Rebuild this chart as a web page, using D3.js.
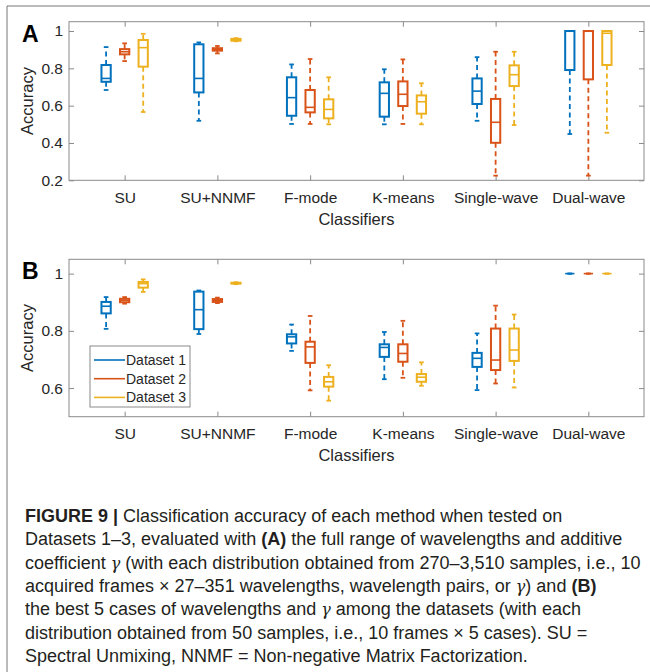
<!DOCTYPE html>
<html>
<head>
<meta charset="utf-8">
<script src="https://cdn.jsdelivr.net/npm/d3@7"></script>
<style>
  body { margin: 0; background: #fff; }
  svg { display: block; font-family: "Liberation Sans", Arial, sans-serif; }
</style>
</head>
<body>
<svg id="svgroot" width="650" height="672"></svg>
<script>
// Data
var classifiers = ["SU", "SU+NNMF", "F-mode", "K-means", "Single-wave", "Dual-wave"];
var datasets = ["Dataset 1", "Dataset 2", "Dataset 3"];
var colors = ["#0072BD", "#D95319", "#EDB120"];

// each row: [lower whisker, q1, median, q3, upper whisker]
// (A) full range of wavelengths
var fullD1 = [[0.684, 0.728, 0.746, 0.818, 0.914], [0.519, 0.671, 0.746, 0.929, 0.939], [0.502, 0.546, 0.643, 0.752, 0.821],
              [0.500, 0.541, 0.666, 0.725, 0.795], [0.519, 0.609, 0.678, 0.746, 0.860], [0.448, 0.791, 1.0, 1.0, 1.0]];
var fullD2 = [[0.839, 0.875, 0.889, 0.903, 0.934], [0.880, 0.895, 0.900, 0.908, 0.920], [0.502, 0.564, 0.591, 0.684, 0.850],
              [0.502, 0.598, 0.661, 0.730, 0.848], [0.225, 0.401, 0.511, 0.636, 0.889], [0.225, 0.741, 1.0, 1.0, 1.0]];
var fullD3 = [[0.566, 0.809, 0.911, 0.952, 0.985], [0.945, 0.948, 0.953, 0.958, 0.962], [0.500, 0.532, 0.580, 0.634, 0.752],
              [0.500, 0.557, 0.621, 0.655, 0.720], [0.496, 0.705, 0.766, 0.816, 0.889], [0.455, 0.818, 0.988, 1.0, 1.0]];
// (B) best 5 cases
var bestD1 = [[0.807, 0.861, 0.886, 0.901, 0.918], [0.789, 0.806, 0.874, 0.937, 0.941], [0.730, 0.756, 0.779, 0.788, 0.822],
              [0.631, 0.709, 0.742, 0.753, 0.796], [0.593, 0.674, 0.704, 0.723, 0.791], [1, 1, 1, 1, 1]];
var bestD2 = [[0.895, 0.900, 0.907, 0.912, 0.918], [0.897, 0.901, 0.907, 0.911, 0.916], [0.592, 0.688, 0.744, 0.762, 0.852],
              [0.636, 0.692, 0.721, 0.753, 0.835], [0.616, 0.663, 0.698, 0.808, 0.888], [1, 1, 1, 1, 1]];
var bestD3 = [[0.936, 0.951, 0.965, 0.971, 0.980], [0.963, 0.965, 0.967, 0.968, 0.970], [0.556, 0.605, 0.622, 0.639, 0.680],
              [0.608, 0.622, 0.638, 0.649, 0.690], [0.602, 0.695, 0.733, 0.808, 0.857], [1, 1, 1, 1, 1]];

var ticksA = [0.2, 0.4, 0.6, 0.8, 1];
var ticksB = [0.6, 0.8, 1];

var captionLines = [
  [["b", "FIGURE 9 | "], ["", "Classification accuracy of each method when tested on"]],
  [["", "Datasets 1–3, evaluated with "], ["b", "(A)"], ["", " the full range of wavelengths and additive"]],
  [["", "coefficient "], ["i", "γ"], ["", " (with each distribution obtained from 270–3,510 samples, i.e., 10"]],
  [["", "acquired frames × 27–351 wavelengths, wavelength pairs, or "], ["i", "γ"], ["", ") and "], ["b", "(B)"]],
  [["", "the best 5 cases of wavelengths and "], ["i", "γ"], ["", " among the datasets (with each"]],
  [["", "distribution obtained from 50 samples, i.e., 10 frames × 5 cases). SU ="]],
  [["", "Spectral Unmixing, NNMF = Non-negative Matrix Factorization."]]
];

var svg = d3.select("svg");
var left = 69, right = 644;
var offsets = [-0.2, 0, 0.2];
var boxW = 0.1;
var axisGray = "#8a8a8a", textCol = "#262626";

// outer frame
svg.append("path").attr("d", "M7,672V6H650").attr("fill", "none").attr("stroke", "#777").attr("stroke-width", 1);

var x = d3.scaleLinear().domain([0.4, 6.6]).range([left, right]);

function panel(label, top, bottom, domain, ticks, series, showLegend){
  var y = d3.scaleLinear().domain(domain).range([bottom, top]);
  var g = svg.append("g");

  // ticks left / right / bottom / top (inward)
  var yl = g.append("g").attr("transform", "translate(" + left + ",0)")
    .call(d3.axisLeft(y).tickValues(ticks).tickSize(-5).tickPadding(6).tickFormat(d3.format("")));
  var yr = g.append("g").attr("transform", "translate(" + right + ",0)")
    .call(d3.axisRight(y).tickValues(ticks).tickSize(-5).tickFormat(""));
  var xb = g.append("g").attr("transform", "translate(0," + bottom + ")")
    .call(d3.axisBottom(x).tickValues(d3.range(1, 7)).tickSize(-5).tickPadding(11.5).tickFormat(function(d){ return classifiers[d - 1]; }));
  var xt = g.append("g").attr("transform", "translate(0," + top + ")")
    .call(d3.axisTop(x).tickValues(d3.range(1, 7)).tickSize(-5).tickFormat(""));
  [yl, yr, xb, xt].forEach(function(a){
    a.select(".domain").remove();
    a.selectAll("line").attr("stroke", axisGray);
    a.selectAll("text").attr("fill", textCol).style("font-size", "15.5px").style("font-family", "Liberation Sans, Arial, sans-serif");
  });

  g.append("rect").attr("x", left).attr("y", top).attr("width", right - left).attr("height", bottom - top)
    .attr("fill", "none").attr("stroke", axisGray).attr("stroke-width", 1);

  // boxes
  series.forEach(function(s, si){
    var col = colors[si];
    var bg = g.append("g").attr("stroke", col).attr("fill", "none");
    s.forEach(function(d, ci){
      var c = ci + 1 + offsets[si];
      var x0 = x(c - boxW / 2), x1 = x(c + boxW / 2), xm = x(c);
      var cap0 = x(c - boxW / 4), cap1 = x(c + boxW / 4);
      // whiskers
      bg.append("line").attr("x1", xm).attr("x2", xm).attr("y1", y(d[3])).attr("y2", y(d[4]))
        .attr("stroke-width", 1.8).attr("stroke-dasharray", "5,3.5");
      bg.append("line").attr("x1", xm).attr("x2", xm).attr("y1", y(d[1])).attr("y2", y(d[0]))
        .attr("stroke-width", 1.8).attr("stroke-dasharray", "5,3.5");
      bg.append("line").attr("x1", cap0).attr("x2", cap1).attr("y1", y(d[4])).attr("y2", y(d[4])).attr("stroke-width", 1.8);
      bg.append("line").attr("x1", cap0).attr("x2", cap1).attr("y1", y(d[0])).attr("y2", y(d[0])).attr("stroke-width", 1.8);
      // box + median
      bg.append("rect").attr("x", x0).attr("y", y(d[3])).attr("width", x1 - x0).attr("height", Math.max(0, y(d[1]) - y(d[3])))
        .attr("stroke-width", 2);
      bg.append("line").attr("x1", x0).attr("x2", x1).attr("y1", y(d[2])).attr("y2", y(d[2])).attr("stroke-width", 1.6);
    });
  });

  // labels
  g.append("text").attr("x", (left + right) / 2).attr("y", bottom + 44.5).attr("text-anchor", "middle")
    .attr("fill", textCol).style("font-size", "16.5px").text("Classifiers");
  g.append("text").attr("transform", "translate(32.5," + (top + bottom) / 2 + ") rotate(-90)").attr("text-anchor", "middle")
    .attr("fill", textCol).style("font-size", "16.5px").text("Accuracy");
  g.append("text").attr("x", 22).attr("y", top + 20).attr("fill", "#000")
    .style("font-size", "23px").style("font-weight", "bold").text(label);

  if(showLegend){
    var lg = g.append("g").attr("transform", "translate(90,346)");
    lg.append("rect").attr("width", 100).attr("height", 61).attr("fill", "#fff").attr("stroke", axisGray);
    datasets.forEach(function(name, i){
      var ly = 14 + i * 18.7;
      lg.append("line").attr("x1", 4).attr("x2", 35).attr("y1", ly).attr("y2", ly).attr("stroke", colors[i]).attr("stroke-width", 1.6);
      lg.append("text").attr("x", 36).attr("y", ly + 5).attr("fill", textCol).style("font-size", "14px").text(name);
    });
  }
}

panel("A", 21.7, 180.3, [0.2, 1.05], ticksA, [fullD1, fullD2, fullD3], false);
panel("B", 259.3, 416.7, [0.5, 1.05], ticksB, [bestD1, bestD2, bestD3], true);

// caption
var cap = svg.append("g").attr("fill", "#231f20").style("font-size", "18px");
captionLines.forEach(function(line, i){
  var t = cap.append("text").attr("x", 25).attr("y", 522 + i * 23.3);
  line.forEach(function(part){
    var sp = t.append("tspan").text(part[1]);
    if(part[0] === "b") sp.style("font-weight", "bold");
    if(part[0] === "i") sp.style("font-style", "italic").style("font-family", "DejaVu Serif, serif").style("font-size", "16px");
  });
});
</script>
</body>
</html>
